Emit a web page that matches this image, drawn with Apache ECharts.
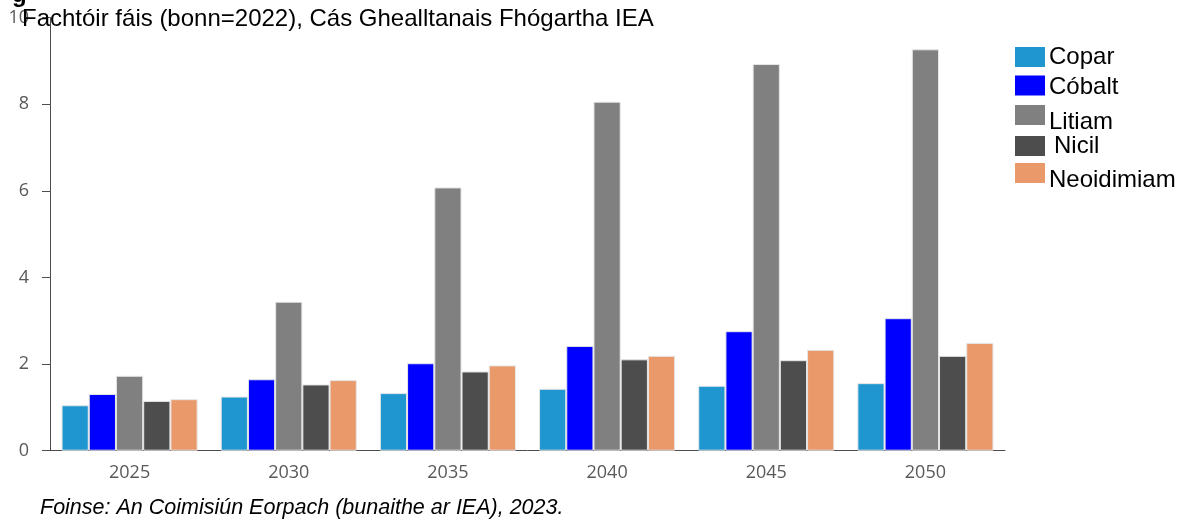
<!DOCTYPE html>
<html>
<head>
<meta charset="utf-8">
<script src="https://cdn.jsdelivr.net/npm/echarts@6/dist/echarts.min.js"></script>
<style>
html,body{margin:0;padding:0;background:#fff;}
#chart{width:1182px;height:521px;}
</style>
</head>
<body>
<div id="chart"></div>
<script>
const categories = ['2025', '2030', '2035', '2040', '2045', '2050'];
const seriesNames = ['Copar', 'Cóbalt', 'Litiam', 'Nicil', 'Neoidimiam'];
const copar = [1.05, 1.25, 1.33, 1.43, 1.50, 1.56];
const cobalt = [1.31, 1.65, 2.02, 2.42, 2.76, 3.06];
const litiam = [1.73, 3.44, 6.08, 8.06, 8.93, 9.27];
const nicil = [1.15, 1.53, 1.83, 2.11, 2.09, 2.19];
const neoidimiam = [1.19, 1.63, 1.97, 2.19, 2.33, 2.49];
const yTicks = [0, 2, 4, 6, 8, 10];
const titleText = 'Fachtóir fáis (bonn=2022), Cás Ghealltanais Fhógartha IEA';
const sourceText = 'Foinse: An Coimisiún Eorpach (bunaithe ar IEA), 2023.';

const colors = ['#2096D0', '#0000FF', '#808080', '#4D4D4D', '#E9996A'];
const values = [copar, cobalt, litiam, nicil, neoidimiam];

// legend placement (one legend box per entry so each can sit exactly)
const legendTops = [45, 75, 105, 134, 163];
const legendTextPadTop = [0, 3, 14, 0, 14];
const legendTextIndent = [0, 0, 0, 5, 0];

const FONT = 'Liberation Sans, Arial, sans-serif';

const legends = seriesNames.map((name, i) => ({
  orient: 'vertical',
  left: 1015,
  top: legendTops[i],
  padding: 0,
  itemWidth: 30,
  itemHeight: 20,
  icon: 'rect',
  itemStyle: {borderWidth: 0},
  data: [name],
  formatter: n => '{t|' + n + '}',
  textStyle: {
    fontFamily: FONT, fontSize: 24, color: '#000',
    rich: {
      t: {
        fontFamily: FONT, fontSize: 24, color: '#000',
        padding: [legendTextPadTop[i], 0, 0, legendTextIndent[i] - 1]
      }
    }
  }
}));

const chart = echarts.init(document.getElementById('chart'), null, {renderer: 'canvas'});
chart.setOption({
  animation: false,
  backgroundColor: '#ffffff',
  grid: {left: 50, right: 177, top: 17.7, bottom: 70.3, containLabel: false, outerBoundsMode: 'none'},
  legend: legends,
  graphic: [
    {type: 'text', left: 12, top: -17, z: 10, style: {text: 'g', fontFamily: FONT, fontWeight: 'bold', fontSize: 24, fill: '#000'}},
    {type: 'text', left: 22, top: 7, z: 10, style: {text: titleText, fontFamily: FONT, fontSize: 24, fill: '#000'}},
    {type: 'text', left: 40, top: 497, z: 10, style: {text: sourceText, fontFamily: FONT, fontStyle: 'italic', fontSize: 21.5, fill: '#000'}}
  ],
  xAxis: {
    type: 'category',
    data: categories,
    boundaryGap: true,
    axisLine: {show: true, lineStyle: {color: '#4d4d4d', width: 1}},
    axisTick: {show: false},
    axisLabel: {color: '#595959', fontFamily: 'Open Sans, sans-serif', fontSize: 18, margin: 13}
  },
  yAxis: {
    type: 'value',
    min: yTicks[0],
    max: yTicks[yTicks.length - 1],
    interval: yTicks[1] - yTicks[0],
    splitLine: {show: false},
    axisLine: {show: true, lineStyle: {color: '#4d4d4d', width: 1}},
    axisTick: {show: true, length: 8, lineStyle: {color: '#4d4d4d'}},
    axisLabel: {color: '#595959', fontFamily: 'Open Sans, sans-serif', fontSize: 18, margin: 21}
  },
  series: seriesNames.map((name, i) => ({
    name: name,
    type: 'bar',
    data: values[i],
    barGap: '0%',
    barCategoryGap: '14.5%',
    itemStyle: {color: colors[i], borderColor: '#e6e6e6', borderWidth: 1}
  }))
});
</script>
</body>
</html>
